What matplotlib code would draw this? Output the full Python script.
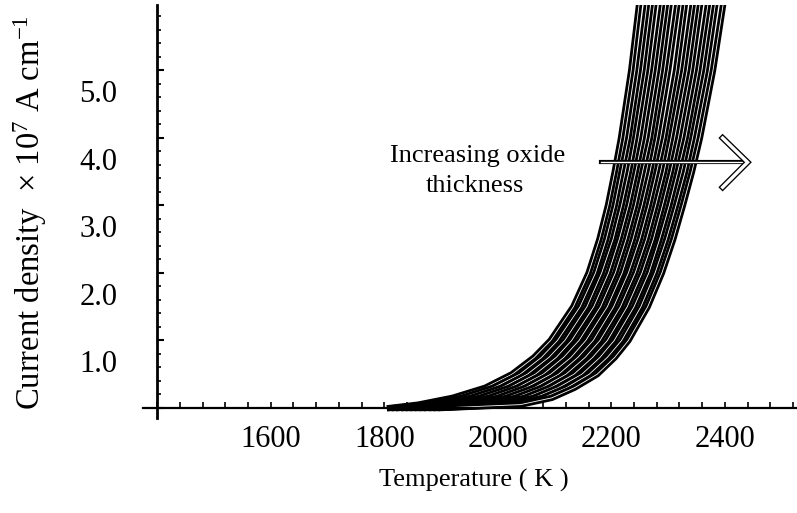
import matplotlib
matplotlib.use("Agg")
import matplotlib.pyplot as plt
from matplotlib.ticker import FixedLocator, MultipleLocator, NullFormatter
from matplotlib.transforms import ScaledTranslation

plt.rcParams['font.family'] = ['Liberation Serif', 'DejaVu Serif']
plt.rcParams['mathtext.fontset'] = 'custom'
plt.rcParams['mathtext.rm'] = 'Liberation Serif'
plt.rcParams['mathtext.it'] = 'Liberation Serif:italic'

# current density levels (x 10^7 A cm^-1) shared by every curve
levels = [0.0, 0.05, 0.15, 0.3, 0.5, 0.75, 1.0, 1.5, 2.0, 2.5, 3.0, 3.5,
          4.0, 5.0, 6.2]

# temperature (K) where each curve reaches those levels, thin -> thick oxide
curve_temps = [
    [1810, 1860, 1920, 1978, 2025, 2064, 2093, 2133, 2160, 2179, 2194, 2206, 2217, 2235, 2252],
    [1818, 1876, 1936, 1992, 2039, 2077, 2105, 2145, 2172, 2191, 2206, 2218, 2230, 2248, 2266],
    [1826, 1893, 1952, 2007, 2052, 2090, 2118, 2157, 2183, 2203, 2218, 2231, 2242, 2261, 2279],
    [1835, 1909, 1968, 2021, 2066, 2103, 2130, 2169, 2195, 2214, 2230, 2243, 2255, 2274, 2293],
    [1843, 1925, 1984, 2035, 2080, 2116, 2143, 2181, 2207, 2226, 2242, 2255, 2268, 2287, 2306],
    [1851, 1942, 2000, 2049, 2093, 2129, 2155, 2193, 2219, 2238, 2254, 2268, 2280, 2300, 2320],
    [1859, 1958, 2015, 2064, 2107, 2141, 2168, 2204, 2230, 2250, 2266, 2280, 2293, 2314, 2333],
    [1867, 1975, 2031, 2078, 2120, 2154, 2180, 2216, 2242, 2262, 2278, 2293, 2305, 2327, 2347],
    [1875, 1991, 2047, 2092, 2134, 2167, 2193, 2228, 2254, 2274, 2290, 2305, 2318, 2340, 2360],
    [1884, 2007, 2063, 2106, 2148, 2180, 2205, 2240, 2266, 2285, 2302, 2317, 2331, 2353, 2374],
    [1892, 2024, 2079, 2121, 2161, 2193, 2218, 2252, 2277, 2297, 2314, 2330, 2343, 2366, 2387],
    [1900, 2040, 2095, 2135, 2175, 2206, 2230, 2264, 2289, 2309, 2326, 2342, 2356, 2379, 2401],
]

x_ticks = [1600, 1800, 2000, 2200, 2400]
y_ticks = [1.0, 2.0, 3.0, 4.0, 5.0]
y_tick_labels = ['1.0', '2.0', '3.0', '4.0', '5.0']

fig = plt.figure(figsize=(7.97, 5.13), dpi=100)
ax = fig.add_axes([0.1794, 0.1852, 0.8206, 0.8051])
ax.set_xlim(1375, 2527)
ax.set_ylim(-0.148, 5.97)

# axes cross at (1400, 0) like the original
for side in ['top', 'right']:
    ax.spines[side].set_visible(False)
ax.spines['left'].set_position(('data', 1400))
ax.spines['bottom'].set_position(('data', 0))
ax.spines['left'].set_linewidth(2.0)
ax.spines['bottom'].set_linewidth(1.6)
ax.spines['left'].set_zorder(5)
ax.spines['bottom'].set_zorder(5)

ax.xaxis.set_major_locator(FixedLocator(x_ticks))
ax.xaxis.set_minor_locator(MultipleLocator(40))
ax.yaxis.set_major_locator(MultipleLocator(1))
ax.yaxis.set_minor_locator(MultipleLocator(0.2))
ax.yaxis.set_major_formatter(NullFormatter())

ax.tick_params(axis='x', which='both', direction='in', length=4, width=1.2,
               labelsize=22, pad=12)
ax.tick_params(axis='y', which='major', direction='in', length=5, width=1.5)
ax.tick_params(axis='y', which='minor', direction='in', length=3, width=1.2)

# y labels sit a little below their ticks in the original
shift = ScaledTranslation(-0.40, -0.21, fig.dpi_scale_trans)
for v, lab in zip(y_ticks, y_tick_labels):
    ax.text(1400, v, lab, transform=ax.transData + shift, fontsize=22,
            ha='right', va='center_baseline')

# curve family: heavy black strokes with a thin white core
for temps in curve_temps:
    ax.plot(temps, levels, color='black', lw=4.6, zorder=2,
            solid_joinstyle='round')
    ax.plot(temps, levels, color='white', lw=0.6, zorder=2)

# outlined arrow
ax.plot([2182, 2434], [3.64, 3.64], color='black', lw=3.0, zorder=3)
ax.plot([2182, 2434], [3.64, 3.64], color='white', lw=1.0, zorder=3)
ax.plot([2396, 2440, 2396], [4.0, 3.64, 3.27], color='black', lw=4.3,
        solid_joinstyle='miter', zorder=3)
ax.plot([2396, 2440, 2396], [4.0, 3.64, 3.27], color='white', lw=2.4,
        solid_joinstyle='miter', zorder=3)

fig.text(478 / 797, 1 - 162 / 513, 'Increasing oxide', fontsize=19,
         ha='center', va='baseline')
fig.text(475 / 797, 1 - 192 / 513, 'thickness', fontsize=19,
         ha='center', va='baseline')

fig.text(474 / 797, 1 - 487 / 513, 'Temperature ( K )', fontsize=19,
         ha='center', va='baseline')
fig.text(30 / 797, 1 - 213 / 513,
         'Current density  × 10$^{7}$ A cm$^{-1}$', fontsize=23.5,
         rotation=90, ha='center', va='center')

fig.savefig('out.png', dpi=100)
